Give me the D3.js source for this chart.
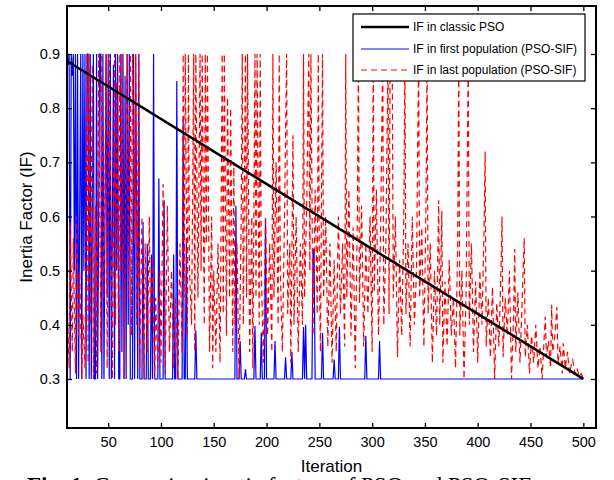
<!DOCTYPE html>
<html>
<head>
<meta charset="utf-8">
<script src="https://cdn.jsdelivr.net/npm/d3@7"></script>
<style>
  html, body { margin: 0; padding: 0; background: #fff; }
  svg { display: block; }
  text { font-family: "Liberation Sans", Arial, Helvetica, sans-serif; }
</style>
</head>
<body>
<svg id="chart" width="614" height="480"></svg>
<script>
// ---------------- data ----------------
const xTicks = [50, 100, 150, 200, 250, 300, 350, 400, 450, 500];
const yTicks = [0.3, 0.4, 0.5, 0.6, 0.7, 0.8, 0.9];
const xLabel = "Iteration";
const yLabel = "Inertia Factor (IF)";
const legendLabels = ["IF in classic PSO", "IF in first population (PSO-SIF)", "IF in last population (PSO-SIF)"];
const caption = "Fig. 1: Comparing inertia factors of PSO and PSO-SIF";

// IF in classic PSO (linear decrease)
const classicPSO = [[11, 0.887], [500, 0.3]];

// IF in first population (PSO-SIF) : [iteration, IF]
const firstPop = [
  [11,0.9],[12,0.88],[13,0.9],[14,0.3],[15,0.9],[16,0.86],[17,0.9],[18,0.5],[19,0.9],[20,0.3],
  [21,0.9],[22,0.3],[24,0.9],[25,0.3],[26,0.9],[27,0.5],[28,0.9],[29,0.3],[30,0.9],[31,0.9],
  [32,0.3],[33,0.9],[34,0.3],[36,0.9],[37,0.3],[38,0.3],[39,0.9],[40,0.3],[42,0.9],[43,0.9],
  [44,0.3],[45,0.9],[46,0.3],[48,0.9],[49,0.45],[50,0.9],[51,0.3],[52,0.9],[53,0.3],[55,0.88],
  [56,0.3],[57,0.9],[58,0.5],[59,0.9],[60,0.3],[61,0.3],[62,0.9],[63,0.35],[64,0.9],[65,0.3],
  [66,0.86],[67,0.3],[68,0.9],[69,0.4],[70,0.9],[71,0.3],[73,0.3],[74,0.9],[75,0.3],[76,0.9],
  [77,0.6],[78,0.3],[79,0.9],[80,0.3],[82,0.3],[83,0.59],[84,0.3],[86,0.3],[87,0.55],[88,0.3],
  [90,0.3],[91,0.53],[92,0.3],[93,0.9],[94,0.3],[97,0.3],[98,0.67],[99,0.3],[102,0.3],[103,0.63],
  [104,0.3],[111,0.3],[112,0.53],[113,0.3],[114,0.3],[115,0.85],[116,0.3],[120,0.3],[121,0.78],[122,0.3],
  [123,0.3],[124,0.56],[125,0.3],[132,0.3],[133,0.39],[134,0.3],[170,0.3],[171,0.62],[172,0.3],[174,0.3],
  [175,0.37],[176,0.3],[179,0.3],[180,0.318],[181,0.3],[188,0.3],[189,0.398],[190,0.3],[194,0.3],[195,0.386],
  [196,0.3],[198,0.3],[199,0.597],[200,0.3],[207,0.3],[208,0.37],[209,0.3],[217,0.3],[218,0.34],[219,0.3],
  [223,0.3],[224,0.35],[225,0.3],[234,0.3],[235,0.396],[236,0.3],[237,0.4],[238,0.3],[243,0.3],[244,0.537],
  [245,0.54],[246,0.3],[252,0.3],[253,0.385],[254,0.3],[263,0.3],[264,0.336],[265,0.3],[268,0.3],[269,0.396],
  [270,0.3],[293,0.3],[294,0.38],[295,0.3],[306,0.3],[307,0.37],[308,0.3],[500,0.3]
];

// IF in last population (PSO-SIF) : [iteration, IF]
const lastPop = [
  [11,0.45],[13,0.32],[14,0.59],[16,0.35],[17,0.56],[19,0.31],[20,0.6],[22,0.38],[23,0.5],[25,0.3],
  [26,0.42],[28,0.32],[30,0.9],[31,0.33],[32,0.9],[33,0.4],[35,0.88],[36,0.3],[38,0.62],[39,0.31],
  [41,0.9],[43,0.35],[44,0.9],[46,0.45],[48,0.9],[49,0.32],[51,0.9],[53,0.5],[54,0.3],[56,0.9],
  [57,0.4],[58,0.85],[60,0.35],[61,0.9],[62,0.5],[63,0.9],[65,0.3],[67,0.75],[68,0.9],[69,0.45],
  [71,0.9],[72,0.38],[73,0.9],[75,0.55],[76,0.9],[77,0.4],[79,0.9],[80,0.32],[82,0.6],[84,0.3],
  [85,0.55],[87,0.35],[89,0.6],[90,0.4],[92,0.52],[94,0.3],[95,0.45],[97,0.32],[99,0.5],[100,0.33],
  [102,0.66],[104,0.31],[106,0.62],[108,0.35],[110,0.5],[112,0.32],[114,0.45],[116,0.3],[118,0.55],[120,0.35],
  [121,0.9],[122,0.45],[123,0.9],[125,0.38],[126,0.9],[127,0.5],[129,0.4],[131,0.9],[132,0.35],[133,0.9],
  [135,0.45],[137,0.9],[138,0.5],[139,0.9],[141,0.4],[142,0.9],[143,0.55],[144,0.9],[146,0.35],[148,0.6],
  [149,0.32],[150,0.5],[152,0.35],[154,0.55],[156,0.33],[158,0.9],[159,0.42],[160,0.9],[162,0.38],[163,0.82],
  [165,0.45],[166,0.8],[168,0.35],[169,0.7],[170,0.4],[172,0.55],[174,0.3],[176,0.6],[177,0.9],[178,0.4],
  [180,0.9],[181,0.45],[182,0.9],[184,0.35],[186,0.6],[187,0.32],[189,0.9],[190,0.45],[191,0.9],[193,0.4],
  [194,0.9],[195,0.5],[197,0.33],[199,0.6],[201,0.38],[203,0.55],[205,0.35],[206,0.9],[207,0.45],[209,0.7],
  [211,0.4],[212,0.9],[213,0.5],[215,0.35],[217,0.6],[219,0.9],[220,0.42],[222,0.55],[223,0.33],[225,0.75],
  [226,0.4],[228,0.6],[230,0.35],[232,0.55],[234,0.4],[235,0.9],[236,0.45],[238,0.62],[240,0.9],[241,0.5],
  [242,0.9],[244,0.38],[246,0.65],[248,0.42],[249,0.9],[250,0.5],[251,0.35],[253,0.9],[254,0.45],[256,0.6],
  [258,0.36],[260,0.55],[262,0.33],[264,0.52],[266,0.35],[268,0.6],[270,0.42],[272,0.55],[274,0.36],[275,0.9],
  [276,0.45],[278,0.65],[280,0.38],[282,0.58],[284,0.32],[286,0.6],[287,0.9],[288,0.44],[290,0.62],[292,0.36],
  [294,0.55],[296,0.42],[298,0.6],[300,0.35],[301,0.9],[302,0.46],[304,0.65],[306,0.38],[308,0.57],[310,0.9],
  [311,0.4],[313,0.55],[315,0.9],[316,0.42],[317,0.88],[319,0.9],[320,0.45],[322,0.6],[324,0.34],[326,0.52],
  [328,0.38],[330,0.6],[331,0.9],[332,0.42],[334,0.55],[336,0.36],[338,0.6],[340,0.4],[342,0.5],[344,0.9],
  [345,0.45],[347,0.58],[349,0.36],[351,0.62],[352,0.9],[353,0.42],[355,0.55],[357,0.33],[359,0.5],[361,0.38],
  [363,0.63],[364,0.4],[366,0.61],[367,0.33],[369,0.48],[371,0.36],[373,0.52],[375,0.38],[377,0.45],[379,0.32],
  [381,0.55],[382,0.9],[383,0.38],[385,0.5],[387,0.3],[389,0.46],[391,0.9],[392,0.4],[394,0.55],[396,0.35],
  [398,0.48],[400,0.33],[402,0.5],[404,0.4],[406,0.58],[407,0.72],[408,0.36],[410,0.45],[412,0.34],[414,0.47],
  [416,0.3],[418,0.44],[420,0.36],[422,0.5],[423,0.6],[424,0.34],[426,0.45],[428,0.38],[430,0.5],[432,0.3],
  [434,0.42],[435,0.54],[436,0.35],[438,0.46],[440,0.33],[442,0.44],[444,0.56],[445,0.34],[447,0.4],[449,0.31],
  [451,0.38],[453,0.33],[455,0.4],[457,0.32],[459,0.36],[461,0.3],[463,0.38],[464,0.415],[465,0.34],[467,0.37],
  [469,0.32],[470,0.437],[471,0.35],[473,0.38],[475,0.433],[476,0.33],[478,0.36],[480,0.31],[481,0.366],[483,0.32],
  [485,0.35],[487,0.31],[489,0.33],[490,0.335],[492,0.31],[494,0.32],[496,0.305],[498,0.31],[500,0.3]
];

const seriesColors = ["#000000", "#0000ff", "#ff0000"];

// ---------------- layout ----------------
const svg = d3.select("#chart");
const L = 67, R = 596, T = 6, B = 428;
const x = d3.scaleLinear().domain([11, 512]).range([L, R]);
const y = d3.scaleLinear().domain([0.2095, 0.9886]).range([B, T]);

svg.append("defs").append("clipPath").attr("id", "plotclip")
  .append("rect").attr("x", L).attr("y", T).attr("width", R - L).attr("height", B - T);

const plot = svg.append("g").attr("clip-path", "url(#plotclip)");
const line = d3.line().x(d => x(d[0])).y(d => y(d[1]));

plot.append("path").datum(firstPop).attr("d", line)
  .attr("fill", "none").attr("stroke", seriesColors[1]).attr("stroke-width", 1.2);
plot.append("path").datum(lastPop).attr("d", line)
  .attr("fill", "none").attr("stroke", seriesColors[2]).attr("stroke-width", 1.2)
  .attr("stroke-dasharray", "6,4");
plot.append("path").datum(classicPSO).attr("d", line)
  .attr("fill", "none").attr("stroke", seriesColors[0]).attr("stroke-width", 2.6);

// ---------------- axes ----------------
const fs = "14.5px";
const gx = svg.append("g").attr("transform", `translate(0,${B})`)
  .call(d3.axisBottom(x).tickValues(xTicks).tickSize(-5).tickPadding(9).tickFormat(d3.format("d")));
const gxt = svg.append("g").attr("transform", `translate(0,${T})`)
  .call(d3.axisTop(x).tickValues(xTicks).tickSize(-5).tickFormat(""));
const gy = svg.append("g").attr("transform", `translate(${L},0)`)
  .call(d3.axisLeft(y).tickValues(yTicks).tickSize(-5).tickPadding(7).tickFormat(d3.format(".1f")));
const gyr = svg.append("g").attr("transform", `translate(${R},0)`)
  .call(d3.axisRight(y).tickValues(yTicks).tickSize(-5).tickFormat(""));
[gx, gxt, gy, gyr].forEach(g => {
  g.select(".domain").remove();
  g.selectAll(".tick line").attr("stroke", "#000").attr("stroke-width", 1.3);
  g.selectAll(".tick text").attr("fill", "#000").style("font-size", fs)
    .style("font-family", '"Liberation Sans", Arial, sans-serif');
});

svg.append("rect").attr("x", L).attr("y", T).attr("width", R - L).attr("height", B - T)
  .attr("fill", "none").attr("stroke", "#000").attr("stroke-width", 2);

// axis labels
svg.append("text").attr("x", (L + R) / 2).attr("y", 472).attr("text-anchor", "middle")
  .style("font-size", "17px").text(xLabel);
svg.append("text").attr("transform", `translate(32,${(T + B) / 2}) rotate(-90)`)
  .attr("text-anchor", "middle").style("font-size", "17px").text(yLabel);

// ---------------- legend ----------------
const lg = svg.append("g");
lg.append("rect").attr("x", 353).attr("y", 14).attr("width", 232).attr("height", 67)
  .attr("fill", "#fff").attr("stroke", "#000").attr("stroke-width", 1.2);
const rowsY = [27, 49, 70];
const sw = [2.6, 1.2, 1.2];
legendLabels.forEach((lab, i) => {
  const ln = lg.append("line").attr("x1", 361).attr("x2", 409).attr("y1", rowsY[i]).attr("y2", rowsY[i])
    .attr("stroke", seriesColors[i]).attr("stroke-width", sw[i]);
  if (i === 2) ln.attr("stroke-dasharray", "6,4");
  lg.append("text").attr("x", 413).attr("y", rowsY[i] + 4).style("font-size", "12px").text(lab);
});

// ---------------- caption (cut off at bottom, as in the source) ----------------
const capParts = caption.split(":");
svg.append("text").attr("x", 27).attr("y", 493)
  .style("font-family", '"Liberation Serif", "Times New Roman", serif').style("font-size", "23px")
  .call(t => {
    t.append("tspan").attr("font-weight", "bold").text(capParts[0]);
    t.append("tspan").text(":" + capParts.slice(1).join(":"));
  });
</script>
</body>
</html>
